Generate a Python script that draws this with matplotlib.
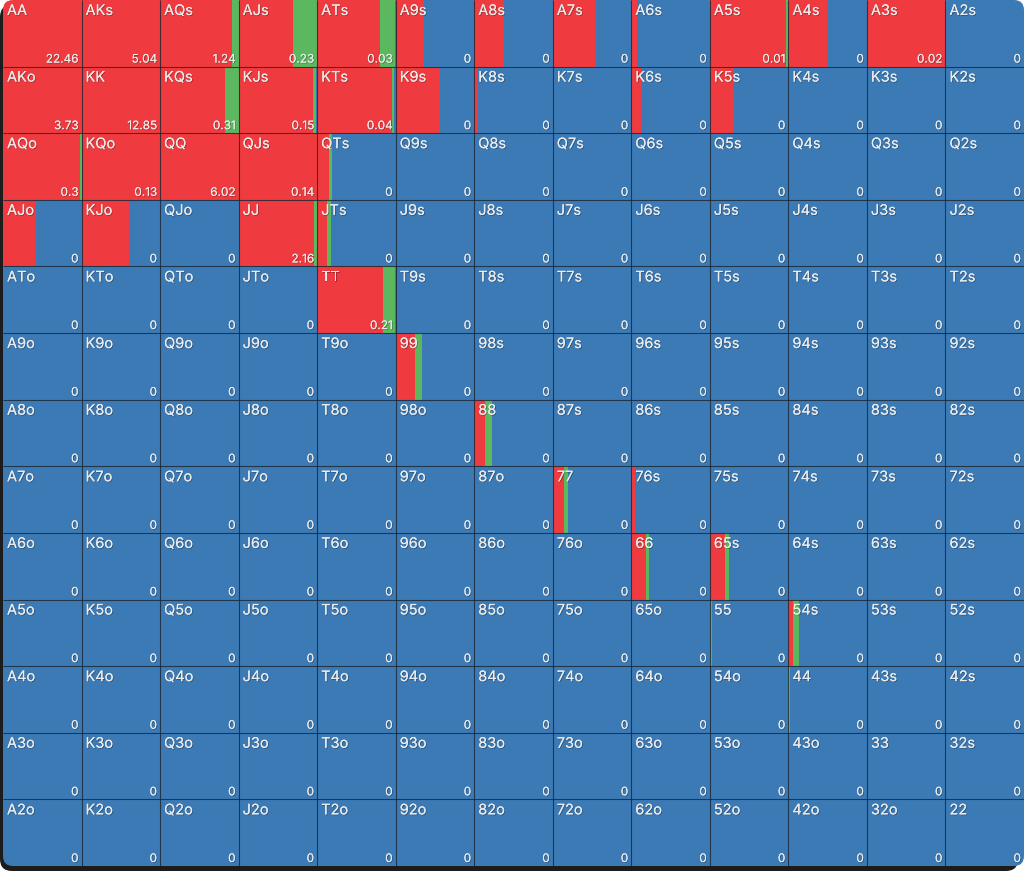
"""Preflop range grid: raise / call / fold frequencies per starting hand."""

import matplotlib

matplotlib.use("Agg")
import matplotlib.pyplot as plt  # noqa: E402
import matplotlib.patheffects as pe  # noqa: E402
from matplotlib.patches import FancyBboxPatch  # noqa: E402

RANKS = ["A", "K", "Q", "J", "T", "9", "8", "7", "6", "5", "4", "3", "2"]

# share of each hand that is raised (red) and called (green); rest is folded
RAISE = {
    "AA": 1.0, "AKs": 1.0, "AQs": 0.92, "AJs": 0.69, "ATs": 0.80,
    "A9s": 0.36, "A8s": 0.38, "A7s": 0.55, "A6s": 0.07, "A5s": 0.97,
    "A4s": 0.50, "A3s": 1.0,
    "AKo": 1.0, "KK": 1.0, "KQs": 0.83, "KJs": 0.95, "KTs": 0.95,
    "K9s": 0.56, "K8s": 0.03, "K7s": 0.01, "K6s": 0.12, "K5s": 0.31,
    "AQo": 0.98, "KQo": 1.0, "QQ": 1.0, "QJs": 1.0, "QTs": 0.15,
    "AJo": 0.42, "KJo": 0.61, "JJ": 0.96, "JTs": 0.13,
    "TT": 0.84, "99": 0.25, "88": 0.14, "77": 0.14, "76s": 0.05,
    "66": 0.19, "65s": 0.19, "54s": 0.06,
}
CALL = {
    "AQs": 0.08, "AJs": 0.31, "ATs": 0.19, "A5s": 0.03,
    "KQs": 0.17, "KJs": 0.04, "KTs": 0.03,
    "AQo": 0.02, "QTs": 0.04, "JJ": 0.04, "JTs": 0.05,
    "TT": 0.15, "99": 0.08, "88": 0.08, "77": 0.06,
    "66": 0.04, "65s": 0.05, "55": 0.03, "54s": 0.07, "44": 0.015,
}
VALUE = {
    "AA": 22.46, "AKs": 5.04, "AQs": 1.24, "AJs": 0.23, "ATs": 0.03,
    "A5s": 0.01, "A3s": 0.02, "AKo": 3.73, "KK": 12.85, "KQs": 0.31,
    "KJs": 0.15, "KTs": 0.04, "AQo": 0.3, "KQo": 0.13, "QQ": 6.02,
    "QJs": 0.14, "JJ": 2.16, "TT": 0.21,
}

RED = "#ef3b3f"
GREEN = "#5cb85f"
BLUE = "#3c7ab5"
TEXT = "#ebebeb"


def hand_name(i, j):
    if i == j:
        return RANKS[i] + RANKS[j]
    if j > i:
        return RANKS[i] + RANKS[j] + "s"
    return RANKS[j] + RANKS[i] + "o"


def main():
    fig = plt.figure(figsize=(10.24, 8.71), dpi=100, facecolor="white")

    # dark shadow panel behind the grid
    shadow = FancyBboxPatch(
        (0.0, 0.0), 10.18, 8.66,
        boxstyle="round,pad=0,rounding_size=0.12",
        transform=fig.dpi_scale_trans, facecolor="#1c1c1c", edgecolor="none",
        zorder=-10,
    )
    fig.patches.append(shadow)

    ax = fig.add_axes([3 / 1024, 5 / 871, 1021 / 1024, 866 / 871])
    ax.set_zorder(5)
    ax.set_xlim(0, 13)
    ax.set_ylim(13, 0)
    ax.axis("off")

    clip = FancyBboxPatch(
        (0.03, 0.05), 10.21, 8.66,
        boxstyle="round,pad=0,rounding_size=0.1",
        transform=fig.dpi_scale_trans, facecolor="none", edgecolor="none",
    )

    hands, xs, ys, reds, greens = [], [], [], [], []
    for i in range(13):
        for j in range(13):
            h = hand_name(i, j)
            hands.append(h)
            xs.append(j)
            ys.append(i + 0.5)
            reds.append(RAISE.get(h, 0.0))
            greens.append(CALL.get(h, 0.0))
    blues = [1 - r - g for r, g in zip(reds, greens)]
    left_g = [x + r for x, r in zip(xs, reds)]
    left_b = [x + r + g for x, r, g in zip(xs, reds, greens)]

    bars = []
    bars.append(ax.barh(ys, reds, left=xs, height=1.0, color=RED, linewidth=0))
    bars.append(ax.barh(ys, greens, left=left_g, height=1.0, color=GREEN, linewidth=0))
    bars.append(ax.barh(ys, blues, left=left_b, height=1.0, color=BLUE, linewidth=0))
    for cont in bars:
        for p in cont:
            p.set_clip_path(clip)

    vl = ax.vlines(range(1, 13), 0, 13, color="#1a2533", linewidth=0.8, alpha=0.8)
    hl = ax.hlines(range(1, 13), 0, 13, color="#1a2533", linewidth=0.8, alpha=0.8)
    vl.set_clip_path(clip)
    hl.set_clip_path(clip)

    shadow_fx = [pe.withSimplePatchShadow(offset=(0.6, -0.6), shadow_rgbFace="black", alpha=0.3),
                 pe.Normal()]
    for h, x, y in zip(hands, xs, ys):
        top = y - 0.5
        ax.annotate(
            h, xy=(x, top), xytext=(4, -4), textcoords="offset pixels",
            ha="left", va="top", fontsize=10.5, color=TEXT, family="Inter",
            path_effects=shadow_fx,
        )
        v = VALUE.get(h, 0)
        ax.annotate(
            f"{v:g}", xy=(x + 1, top + 1), xytext=(-3, 4), textcoords="offset pixels",
            ha="right", va="baseline", fontsize=8.5, color=TEXT, family="Inter",
            path_effects=shadow_fx,
        )

    fig.savefig("out.png", dpi=100, facecolor="white")
    plt.close(fig)


if __name__ == "__main__":
    main()
